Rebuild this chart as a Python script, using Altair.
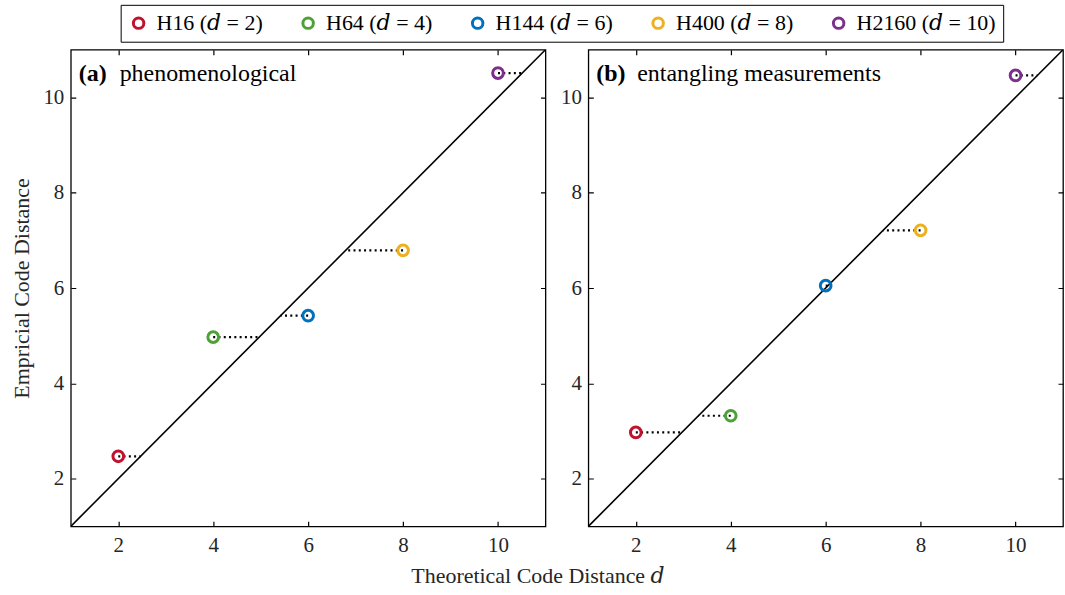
import altair as alt
import pandas as pd

codes = ["H16", "H64", "H144", "H400", "H2160"]
theory_d = [2, 4, 6, 8, 10]
empirical_a = [2.47, 4.97, 5.42, 6.79, 10.51]
empirical_b = [2.97, 3.32, 6.05, 7.21, 10.46]
colors = ["#C0122E", "#4DA136", "#0072BD", "#EDB120", "#7E2F8E"]
diag = [1, 11]
tick_vals = [2, 4, 6, 8, 10]

labels = [f"{c} (𝑑 = {d})" for c, d in zip(codes, theory_d)]

FONT = "Liberation Serif, DejaVu Serif, serif"
W, H = 476, 478


def panel(emp, tag, name, ytitle):
    df = pd.DataFrame({"label": labels, "d": theory_d, "emp": emp})
    ddf = pd.DataFrame({"v": diag})
    xs = alt.Scale(domain=[1, 11], nice=False, zero=False)
    ys = alt.Scale(domain=[1, 11], nice=False, zero=False)
    common = dict(values=tick_vals, domain=False, ticks=False, grid=True,
                  gridColor="black", gridOpacity=1, gridWidth=1.2,
                  labelFont=FONT, labelFontSize=21, labelColor="#262626",
                  titleFont=FONT, titleFontSize=22, titleFontWeight="normal",
                  titleColor="#262626")
    xaxis = alt.Axis(title=None, gridDash=[5, H - 10, 5, 3000], labelPadding=8, **common)
    if ytitle:
        yaxis = alt.Axis(title=ytitle, gridDash=[5, W - 10, 5, 3000], labelPadding=7,
                         titlePadding=9, **common)
    else:
        yaxis = alt.Axis(title=None, gridDash=[5, W - 10, 5, 3000], labelPadding=7, **common)
    line = alt.Chart(ddf).mark_line(color="black", strokeWidth=1.6, clip=True).encode(
        x=alt.X("v:Q", scale=xs, axis=xaxis),
        y=alt.Y("v:Q", scale=ys, axis=yaxis),
    )
    rules = alt.Chart(df).mark_rule(color="black", strokeWidth=2.2, strokeDash=[2, 3.3]).encode(
        x="d:Q", x2="emp:Q", y="emp:Q"
    )
    pts = alt.Chart(df).mark_point(shape="circle", filled=False, strokeWidth=3, size=115,
                                   opacity=1).encode(
        x="d:Q", y="emp:Q",
        color=alt.Color("label:N", scale=alt.Scale(domain=labels, range=colors),
                        legend=alt.Legend(orient="none", legendX=50, legendY=-45,
                                          direction="horizontal", columns=5, title=None,
                                          strokeColor="black", fillColor="white", padding=7,
                                          symbolType="circle", symbolStrokeWidth=3,
                                          symbolSize=110, labelFont=FONT, labelFontSize=22,
                                          labelColor="black", columnPadding=33, labelOffset=7)),
    )
    tdf = pd.DataFrame({"tag": [tag], "name": [name]})
    tag_t = alt.Chart(tdf).mark_text(align="left", baseline="middle", font=FONT, fontSize=24,
                                     fontWeight="bold", color="black").encode(
        x=alt.value(8), y=alt.value(24), text="tag:N")
    name_t = alt.Chart(tdf).mark_text(align="left", baseline="middle", font=FONT, fontSize=24,
                                      color="black").encode(
        x=alt.value(49), y=alt.value(24), text="name:N")
    return alt.layer(line, rules, pts, tag_t, name_t).properties(width=W, height=H)


a = panel(empirical_a, "(a)", "phenomenological", "Empricial Code Distance")
b = panel(empirical_b, "(b)", "entangling measurements", None)

chart = alt.hconcat(a, b, spacing=43, bounds="flush").properties(
    padding={"left": 10, "top": 3, "right": 1, "bottom": 5},
    background="white",
    title=alt.TitleParams("Theoretical Code Distance 𝑑", orient="bottom", anchor="middle",
                          font=FONT, fontSize=22, fontWeight="normal", color="#262626",
                          offset=10, dx=1),
).configure_view(stroke="black", strokeWidth=1.3)

chart.save("out.html", embed_options={"renderer": "svg", "actions": False})
